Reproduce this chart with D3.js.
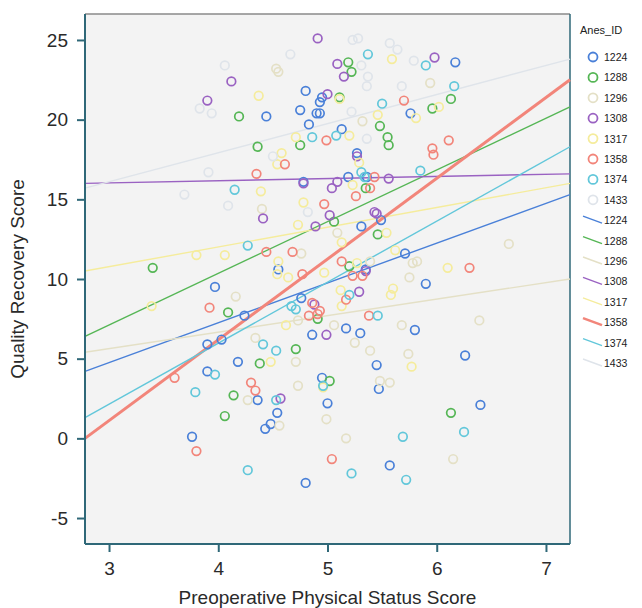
<!DOCTYPE html>
<html>
<head>
<meta charset="utf-8">
<script src="https://cdn.jsdelivr.net/npm/d3@7"></script>
<style>
  body { margin: 0; background: #fff; }
  svg { display: block; font-family: "Liberation Sans", Arial, sans-serif; }
</style>
</head>
<body>
<div id="chart"></div>
<script>
// series ids and colours
const ids = ["1224", "1288", "1296", "1308", "1317", "1358", "1374", "1433"];
const colors = ["#4a80d8", "#55b655", "#e4e0c6", "#9a62c2", "#f5ec9c", "#f2857a", "#62c7da", "#dfe4ea"];

// scatter points per Anes_ID: [physical status, quality recovery]
const pts1224 = [[4.80,21.8],[4.95,21.4],[4.93,21.1],[4.44,20.2],[4.75,20.6],[4.90,20.4],[4.83,19.7],[4.78,16.1],
  [6.17,23.6],[5.76,20.4],[4.93,20.4],[5.13,19.4],[5.27,17.9],[5.19,16.4],[5.36,16.4],[4.55,10.6],[3.97,9.5],
  [4.24,7.7],[4.76,8.8],[4.86,6.5],[3.90,5.9],[4.03,6.2],[4.18,4.8],[3.90,4.2],[4.95,3.8],[5.49,13.7],[5.31,13.3],
  [5.71,11.6],[5.90,9.7],[5.35,10.6],[5.17,6.9],[5.30,6.6],[5.80,6.8],[6.26,5.2],[5.45,4.6],[5.47,3.1],[4.36,2.4],
  [5.00,2.2],[4.54,1.6],[4.48,0.9],[4.43,0.6],[3.76,0.1],[4.80,-2.8],[5.57,-1.7],[6.40,2.1]];
const pts1288 = [[4.19,20.2],[4.75,18.4],[4.36,18.3],[5.19,23.6],[5.22,23.0],[5.11,21.4],[5.48,19.6],[5.55,18.9],
  [5.56,18.4],[6.13,21.3],[5.96,20.7],[5.35,15.7],[3.40,10.7],[4.09,7.9],[4.91,7.5],[4.71,5.6],[4.38,4.7],[5.06,13.6],
  [5.46,12.8],[5.20,10.8],[5.02,3.6],[4.14,2.7],[4.06,1.4],[6.13,1.6]];
const pts1296 = [[4.53,23.2],[4.55,23.0],[5.94,22.3],[5.32,19.9],[4.40,14.4],[4.76,11.6],[4.16,8.9],[4.73,7.4],
  [4.34,6.3],[4.71,4.8],[5.09,12.9],[6.66,12.2],[5.78,11.0],[5.82,11.1],[5.39,11.1],[5.75,10.1],[5.06,7.1],[5.68,7.1],
  [6.39,7.4],[5.25,6.0],[5.39,5.5],[5.74,5.3],[5.48,3.6],[5.57,3.5],[4.27,2.4],[4.73,3.3],[4.56,0.8],[4.99,1.2],
  [5.17,0.0],[6.15,-1.3]];
const pts1308 = [[4.91,25.1],[4.12,22.4],[3.90,21.2],[4.78,16.0],[5.00,21.6],[5.98,23.9],[5.09,23.5],[5.15,22.7],
  [5.27,17.7],[5.56,16.3],[5.04,15.7],[5.09,16.1],[4.41,13.8],[4.89,13.3],[4.88,8.4],[4.99,6.5],[5.02,14.0],
  [5.43,14.2],[5.45,14.1],[5.35,10.5],[5.29,9.2],[4.57,2.5]];
const pts1317 = [[4.37,21.5],[4.71,18.9],[4.58,17.9],[4.54,17.2],[4.39,15.5],[5.59,23.8],[5.11,21.3],[6.02,20.8],
  [5.81,20.1],[5.46,20.3],[5.20,19.0],[5.29,17.3],[5.23,15.9],[4.78,14.8],[4.73,13.4],[4.06,11.5],[3.80,11.5],
  [4.55,11.1],[4.54,10.3],[4.64,10.1],[4.97,10.4],[3.39,8.3],[4.62,7.1],[4.48,4.8],[5.54,12.9],[5.13,12.3],
  [5.62,11.8],[6.10,10.7],[5.27,11.0],[5.12,9.3],[5.60,9.4],[5.58,9.0],[5.13,8.3],[5.77,4.5],[4.96,3.2]];
const pts1358 = [[4.99,18.7],[4.61,17.2],[4.35,16.6],[5.70,21.2],[6.11,18.7],[5.96,18.2],[5.97,17.8],[5.43,16.4],
  [5.39,15.7],[5.26,15.2],[4.97,14.7],[4.44,11.7],[4.68,11.7],[4.77,10.3],[3.92,8.2],[4.86,8.5],[4.83,7.7],[4.91,7.8],
  [3.60,3.8],[4.30,3.5],[4.34,3.0],[5.13,11.1],[6.30,10.7],[5.23,10.2],[5.32,10.2],[5.17,8.7],[4.93,8.0],[5.38,7.7],
  [3.80,-0.8],[5.04,-1.3]];
const pts1374 = [[4.86,18.9],[4.15,15.6],[5.37,24.1],[5.90,23.4],[6.16,22.1],[5.50,21.0],[5.08,19.0],[5.85,16.8],
  [5.31,16.7],[5.34,16.4],[4.27,12.1],[4.67,8.3],[4.71,8.1],[4.41,5.9],[4.53,5.5],[3.97,4.0],[5.20,9.0],[5.46,7.7],
  [3.79,2.9],[4.53,2.4],[4.96,3.3],[4.27,-2.0],[5.69,0.1],[6.25,0.4],[5.22,-2.2],[5.72,-2.6]];
const pts1433 = [[4.66,24.1],[4.06,23.4],[3.83,20.7],[3.94,20.4],[4.50,17.7],[3.91,16.7],[3.69,15.3],[5.23,25.0],
  [5.28,25.1],[5.57,24.8],[5.64,24.4],[5.79,23.7],[5.31,23.4],[5.37,22.7],[5.36,22.1],[5.68,22.1],[5.22,20.5],
  [5.36,18.8],[4.09,14.6],[4.82,14.2]];
const points = [pts1224, pts1288, pts1296, pts1308, pts1317, pts1358, pts1374, pts1433];

// fit lines: predicted score at left and right edge of the x range
const fitLeft  = [4.2, 6.4, 5.4, 16.0, 10.5, 0.0, 1.3, 15.7];
const fitRight = [15.3, 20.8, 10.0, 16.6, 16.0, 22.5, 18.3, 23.8];

const xTicks = [3, 4, 5, 6, 7];
const yTicks = [-5, 0, 5, 10, 15, 20, 25];

const width = 642, height = 608;
const plot = { left: 85, right: 570, top: 14, bottom: 544 };

const svg = d3.select("#chart").append("svg")
    .attr("width", width)
    .attr("height", height);

const x = d3.scaleLinear().domain([2.78, 7.22]).range([plot.left, plot.right]);
const y = d3.scaleLinear().domain([-6.63, 26.63]).range([plot.bottom, plot.top]);

// plot background + frame
svg.append("rect")
    .attr("x", plot.left).attr("y", plot.top)
    .attr("width", plot.right - plot.left).attr("height", plot.bottom - plot.top)
    .attr("fill", "#f3f3f3");
svg.append("line")
    .attr("x1", plot.left).attr("x2", plot.right).attr("y1", plot.top).attr("y2", plot.top)
    .attr("stroke", "#8a8a8a").attr("stroke-width", 1.5);
svg.append("line")
    .attr("x1", plot.right).attr("x2", plot.right).attr("y1", plot.top).attr("y2", plot.bottom)
    .attr("stroke", "#2f6878").attr("stroke-width", 1.5);

const g = svg.append("g");

// fit lines behind points
ids.forEach((id, i) => {
    const lw = id === "1358" ? 3 : 1.4;
    g.append("line")
        .attr("x1", x(2.78)).attr("y1", y(fitLeft[i]))
        .attr("x2", x(7.22)).attr("y2", y(fitRight[i]))
        .attr("stroke", colors[i])
        .attr("stroke-width", lw);
});

// points
ids.forEach((id, i) => {
    g.selectAll(".pt" + id)
        .data(points[i])
        .enter().append("circle")
        .attr("class", "pt" + id)
        .attr("cx", d => x(d[0]))
        .attr("cy", d => y(d[1]))
        .attr("r", 4.3)
        .attr("fill", "none")
        .attr("stroke", colors[i])
        .attr("stroke-width", 1.7);
});

// axes
const axisColor = "#2f6878";
const fmt = d => String(d); // plain hyphen minus, no decimals
const xAxis = svg.append("g")
    .attr("transform", `translate(0,${plot.bottom})`)
    .call(d3.axisBottom(x).tickValues(xTicks).tickFormat(fmt).tickSize(8).tickPadding(10));
const yAxis = svg.append("g")
    .attr("transform", `translate(${plot.left},0)`)
    .call(d3.axisLeft(y).tickValues(yTicks).tickFormat(fmt).tickSize(8).tickPadding(9));

[xAxis, yAxis].forEach(a => {
    a.select(".domain").attr("stroke", axisColor).attr("stroke-width", 2);
    a.selectAll(".tick line").attr("stroke", axisColor).attr("stroke-width", 2);
    a.selectAll(".tick text")
        .attr("fill", "#2a2a2a")
        .style("font-size", "19px")
        .style("font-family", "Liberation Sans, Arial, sans-serif");
});
xAxis.select(".domain").attr("d", `M${plot.left},0H${plot.right}`);
yAxis.select(".domain").attr("d", `M0,${plot.top}V${plot.bottom}`);

// axis titles
svg.append("text")
    .attr("x", (plot.left + plot.right) / 2)
    .attr("y", 604)
    .attr("text-anchor", "middle")
    .attr("fill", "#2a2a2a")
    .style("font-size", "19px")
    .text("Preoperative Physical Status Score");
svg.append("text")
    .attr("transform", `translate(24,${(plot.top + plot.bottom) / 2}) rotate(-90)`)
    .attr("text-anchor", "middle")
    .attr("fill", "#2a2a2a")
    .style("font-size", "19px")
    .text("Quality Recovery Score");

// legend
const leg = svg.append("g").attr("transform", "translate(578,0)");
leg.append("text")
    .attr("x", 2).attr("y", 34)
    .attr("fill", "#222")
    .style("font-size", "11px")
    .text("Anes_ID");

const rowH = 20.4, row0 = 57;
ids.forEach((id, i) => {
    const yy = row0 + i * rowH;
    leg.append("circle")
        .attr("cx", 15).attr("cy", yy).attr("r", 4.5)
        .attr("fill", "none").attr("stroke", colors[i]).attr("stroke-width", 1.8);
    leg.append("text")
        .attr("x", 26).attr("y", yy + 4)
        .attr("fill", "#222").style("font-size", "10.5px")
        .text(id);
});
ids.forEach((id, i) => {
    const yy = row0 + (i + 8) * rowH;
    leg.append("line")
        .attr("x1", 5).attr("y1", yy - 4).attr("x2", 24).attr("y2", yy + 3)
        .attr("stroke", colors[i]).attr("stroke-width", id === "1358" ? 2.5 : 1.4);
    leg.append("text")
        .attr("x", 26).attr("y", yy + 4)
        .attr("fill", "#222").style("font-size", "10.5px")
        .text(id);
});
</script>
</body>
</html>
